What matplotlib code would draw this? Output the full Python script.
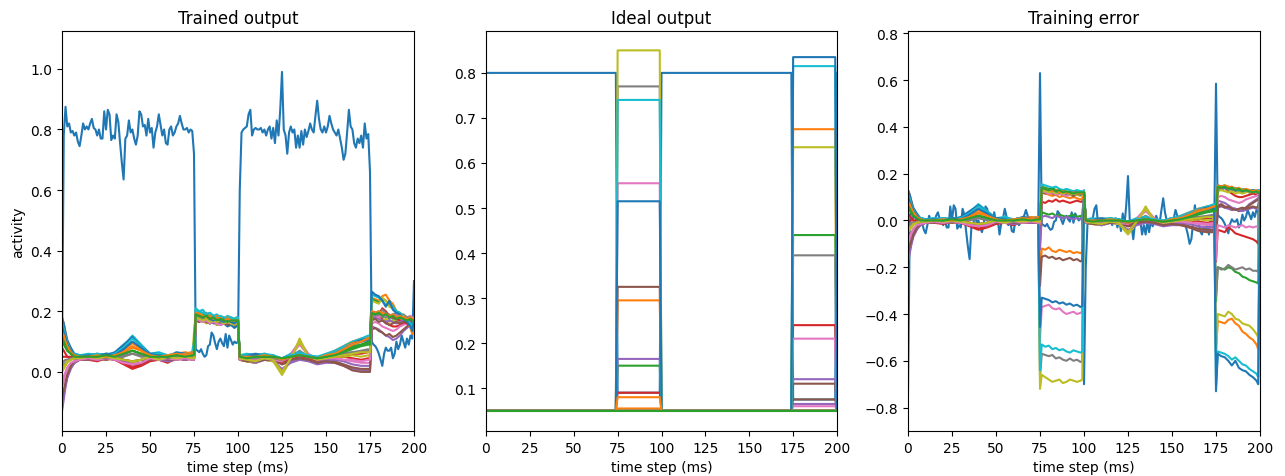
import numpy as np
import matplotlib
matplotlib.use("Agg")
import matplotlib.pyplot as plt

# ---------------- data ----------------
time_steps = np.arange(201)

grid_t = [0, 1, 2, 3, 5, 7, 10,
          15, 20, 25, 30, 35, 40, 45, 50, 55, 60, 65, 70, 74,
          75, 76, 78, 80, 82, 84, 86, 88, 90, 92, 94, 96, 98, 99, 100,
          101, 105, 110, 115, 120, 125, 130, 135, 140, 145, 150, 155, 160, 165, 170, 174,
          175, 176, 178, 180, 182, 184, 186, 188, 190, 192, 194, 196, 198, 199, 200]

# trained output of unit 0 (every time step)
unit0_out = [0.06,
    0.78, 0.875, 0.81, 0.82, 0.79, 0.795, 0.78, 0.79, 0.76, 0.745,
    0.78, 0.82, 0.8, 0.81, 0.8, 0.82, 0.835, 0.805, 0.8, 0.78,
    0.8, 0.77, 0.77, 0.86, 0.8, 0.865, 0.85, 0.765, 0.78, 0.77,
    0.85, 0.825, 0.755, 0.69, 0.635, 0.77, 0.78, 0.83, 0.79, 0.8,
    0.77, 0.75, 0.78, 0.86, 0.85, 0.81, 0.815, 0.78, 0.835, 0.79,
    0.805, 0.74, 0.79, 0.81, 0.85, 0.815, 0.78, 0.8, 0.755, 0.75,
    0.8, 0.81, 0.78, 0.79, 0.81, 0.82, 0.845, 0.82, 0.8, 0.8,
    0.805, 0.79, 0.8, 0.795, 0.72,
    0.075, 0.07, 0.065, 0.075, 0.06, 0.05, 0.055, 0.085, 0.09, 0.13,
    0.12, 0.095, 0.075, 0.1, 0.11, 0.095, 0.085, 0.125, 0.08, 0.12,
    0.105, 0.09, 0.1, 0.095, 0.1,
    0.6, 0.79, 0.8, 0.805, 0.81, 0.85, 0.865, 0.78, 0.8, 0.805,
    0.8, 0.8, 0.805, 0.79, 0.8, 0.78, 0.8, 0.81, 0.77, 0.805,
    0.755, 0.83, 0.78, 0.865, 0.99, 0.8, 0.78, 0.72, 0.79, 0.81,
    0.79, 0.8, 0.74, 0.78, 0.74, 0.795, 0.75, 0.8, 0.775, 0.795,
    0.82, 0.8, 0.79, 0.845, 0.895, 0.835, 0.8, 0.79, 0.81, 0.79,
    0.81, 0.845, 0.82, 0.8, 0.79, 0.78, 0.8, 0.77, 0.74, 0.7,
    0.72, 0.79, 0.865, 0.81, 0.8, 0.755, 0.74, 0.77, 0.755, 0.78,
    0.74, 0.82, 0.77, 0.785, 0.66,
    0.1, 0.09, 0.085, 0.075, 0.06, 0.04, 0.02, 0.06, 0.08, 0.07,
    0.07, 0.08, 0.045, 0.06, 0.1, 0.075, 0.09, 0.12, 0.1, 0.08,
    0.11, 0.09, 0.12, 0.11, 0.3]

# trained outputs of units 1..22 on grid_t
bundle_out = [
    # 1 orange
    [0.18, 0.16, 0.13, 0.10, 0.07, 0.055, 0.05,
     0.055, 0.05, 0.06, 0.055, 0.07, 0.095, 0.075, 0.055, 0.06, 0.05, 0.06, 0.065, 0.06,
     0.06, 0.175, 0.17, 0.18, 0.165, 0.16, 0.17, 0.165, 0.16, 0.165, 0.155, 0.16, 0.155, 0.16, 0.16,
     0.05, 0.055, 0.05, 0.06, 0.045, 0.04, 0.055, 0.06, 0.05, 0.045, 0.055, 0.07, 0.085, 0.1, 0.11, 0.115,
     0.11, 0.19, 0.195, 0.2, 0.19, 0.195, 0.185, 0.18, 0.185, 0.175, 0.18, 0.17, 0.175, 0.17, 0.17],
    # 2 green
    [0.12, 0.11, 0.09, 0.075, 0.06, 0.05, 0.045,
     0.05, 0.045, 0.055, 0.05, 0.06, 0.07, 0.06, 0.045, 0.05, 0.045, 0.055, 0.05, 0.055,
     0.05, 0.185, 0.18, 0.175, 0.18, 0.17, 0.175, 0.17, 0.165, 0.17, 0.175, 0.165, 0.17, 0.165, 0.165,
     0.045, 0.05, 0.04, 0.05, 0.055, 0.04, 0.05, 0.055, 0.045, 0.04, 0.05, 0.06, 0.075, 0.085, 0.09, 0.1,
     0.1, 0.19, 0.185, 0.195, 0.19, 0.18, 0.185, 0.175, 0.18, 0.175, 0.17, 0.175, 0.17, 0.17, 0.17],
    # 3 red
    [0.08, 0.07, 0.06, 0.05, 0.045, 0.045, 0.04,
     0.04, 0.035, 0.045, 0.04, 0.025, 0.01, 0.02, 0.035, 0.04, 0.03, 0.045, 0.04, 0.045,
     0.04, 0.17, 0.165, 0.175, 0.17, 0.18, 0.17, 0.175, 0.17, 0.165, 0.17, 0.175, 0.17, 0.17, 0.17,
     0.04, 0.035, 0.03, 0.045, 0.04, 0.025, 0.035, 0.05, 0.04, 0.03, 0.04, 0.045, 0.05, 0.045, 0.04, 0.045,
     0.04, 0.18, 0.185, 0.19, 0.175, 0.165, 0.155, 0.15, 0.15, 0.155, 0.16, 0.165, 0.16, 0.165, 0.165],
    # 4 purple
    [-0.13, -0.09, -0.05, -0.02, 0.01, 0.03, 0.04,
     0.045, 0.04, 0.05, 0.045, 0.03, 0.02, 0.025, 0.04, 0.045, 0.035, 0.04, 0.045, 0.04,
     0.04, 0.18, 0.185, 0.18, 0.175, 0.185, 0.18, 0.175, 0.18, 0.175, 0.17, 0.175, 0.17, 0.175, 0.175,
     0.04, 0.035, 0.03, 0.04, 0.035, 0.01, 0.03, 0.04, 0.035, 0.025, 0.03, 0.03, 0.02, 0.01, 0.005, 0.005,
     0.005, 0.15, 0.145, 0.14, 0.13, 0.12, 0.115, 0.105, 0.11, 0.12, 0.135, 0.145, 0.155, 0.16, 0.165],
    # 5 brown
    [-0.1, -0.07, -0.04, -0.015, 0.015, 0.03, 0.04,
     0.045, 0.045, 0.04, 0.05, 0.04, 0.035, 0.04, 0.045, 0.05, 0.04, 0.045, 0.04, 0.045,
     0.045, 0.17, 0.175, 0.165, 0.17, 0.16, 0.165, 0.155, 0.16, 0.165, 0.155, 0.16, 0.15, 0.155, 0.155,
     0.045, 0.04, 0.035, 0.045, 0.04, 0.03, 0.04, 0.045, 0.04, 0.035, 0.04, 0.035, 0.025, 0.015, 0.01, 0.01,
     0.01, 0.14, 0.145, 0.135, 0.13, 0.12, 0.125, 0.115, 0.12, 0.13, 0.14, 0.15, 0.16, 0.165, 0.165],
    # 6 pink
    [-0.05, -0.03, -0.01, 0.01, 0.025, 0.035, 0.04,
     0.04, 0.045, 0.04, 0.045, 0.03, 0.02, 0.03, 0.04, 0.045, 0.04, 0.05, 0.045, 0.05,
     0.05, 0.185, 0.19, 0.195, 0.18, 0.175, 0.18, 0.165, 0.155, 0.16, 0.165, 0.155, 0.16, 0.165, 0.165,
     0.045, 0.04, 0.045, 0.04, 0.035, 0.03, 0.06, 0.1, 0.06, 0.04, 0.045, 0.05, 0.04, 0.035, 0.03, 0.03,
     0.03, 0.16, 0.165, 0.16, 0.15, 0.145, 0.14, 0.135, 0.14, 0.15, 0.155, 0.16, 0.165, 0.17, 0.17],
    # 7 gray
    [0.02, 0.025, 0.03, 0.035, 0.04, 0.045, 0.045,
     0.05, 0.045, 0.05, 0.045, 0.05, 0.06, 0.05, 0.05, 0.045, 0.05, 0.045, 0.05, 0.05,
     0.1, 0.2, 0.195, 0.19, 0.195, 0.18, 0.185, 0.175, 0.17, 0.18, 0.17, 0.175, 0.165, 0.17, 0.17,
     0.05, 0.045, 0.04, 0.05, 0.045, 0.035, 0.05, 0.07, 0.05, 0.045, 0.05, 0.055, 0.06, 0.065, 0.07, 0.075,
     0.07, 0.185, 0.18, 0.19, 0.18, 0.185, 0.175, 0.18, 0.17, 0.175, 0.17, 0.175, 0.17, 0.17, 0.17],
    # 8 olive
    [0.0, 0.01, 0.02, 0.03, 0.04, 0.045, 0.05,
     0.045, 0.05, 0.04, 0.05, 0.035, 0.03, 0.04, 0.05, 0.045, 0.04, 0.05, 0.045, 0.05,
     0.13, 0.19, 0.18, 0.17, 0.16, 0.165, 0.17, 0.155, 0.16, 0.17, 0.165, 0.16, 0.165, 0.17, 0.17,
     0.04, 0.035, 0.03, 0.04, 0.035, -0.01, 0.04, 0.11, 0.05, 0.035, 0.045, 0.05, 0.05, 0.055, 0.05, 0.055,
     0.05, 0.175, 0.18, 0.175, 0.17, 0.175, 0.165, 0.17, 0.165, 0.17, 0.175, 0.17, 0.175, 0.175, 0.175],
    # 9 cyan
    [0.17, 0.15, 0.12, 0.1, 0.075, 0.06, 0.055,
     0.06, 0.055, 0.06, 0.06, 0.085, 0.12, 0.09, 0.06, 0.065, 0.055, 0.06, 0.06, 0.065,
     0.1, 0.21, 0.2, 0.205, 0.19, 0.195, 0.185, 0.19, 0.18, 0.175, 0.185, 0.18, 0.175, 0.18, 0.18,
     0.055, 0.06, 0.055, 0.06, 0.05, 0.045, 0.06, 0.065, 0.055, 0.05, 0.06, 0.07, 0.085, 0.1, 0.11, 0.12,
     0.12, 0.2, 0.195, 0.2, 0.19, 0.185, 0.19, 0.18, 0.185, 0.18, 0.175, 0.18, 0.175, 0.18, 0.18],
    # 10 blue
    [0.18, 0.16, 0.13, 0.105, 0.08, 0.06, 0.055,
     0.055, 0.06, 0.055, 0.065, 0.09, 0.115, 0.085, 0.06, 0.06, 0.05, 0.065, 0.06, 0.06,
     0.06, 0.185, 0.18, 0.175, 0.165, 0.17, 0.16, 0.165, 0.155, 0.16, 0.15, 0.155, 0.145, 0.15, 0.15,
     0.05, 0.055, 0.06, 0.055, 0.05, 0.045, 0.055, 0.06, 0.05, 0.045, 0.055, 0.065, 0.08, 0.095, 0.105, 0.11,
     0.11, 0.2, 0.195, 0.19, 0.195, 0.185, 0.18, 0.185, 0.175, 0.18, 0.175, 0.18, 0.175, 0.175, 0.175],
    # 11 orange
    [0.15, 0.14, 0.115, 0.095, 0.07, 0.055, 0.05,
     0.055, 0.05, 0.055, 0.05, 0.065, 0.08, 0.07, 0.05, 0.055, 0.05, 0.055, 0.06, 0.065,
     0.065, 0.2, 0.195, 0.19, 0.185, 0.19, 0.18, 0.185, 0.18, 0.175, 0.18, 0.175, 0.17, 0.175, 0.175,
     0.05, 0.05, 0.045, 0.055, 0.05, 0.04, 0.05, 0.055, 0.05, 0.045, 0.055, 0.065, 0.08, 0.095, 0.1, 0.11,
     0.11, 0.245, 0.24, 0.235, 0.25, 0.255, 0.235, 0.225, 0.2, 0.19, 0.175, 0.165, 0.145, 0.125, 0.16],
    # 12 green
    [0.1, 0.09, 0.08, 0.07, 0.06, 0.05, 0.05,
     0.05, 0.055, 0.05, 0.055, 0.06, 0.07, 0.06, 0.05, 0.05, 0.055, 0.05, 0.055, 0.055,
     0.055, 0.195, 0.19, 0.185, 0.19, 0.18, 0.175, 0.18, 0.17, 0.175, 0.17, 0.165, 0.17, 0.17, 0.17,
     0.05, 0.05, 0.045, 0.05, 0.05, 0.04, 0.05, 0.055, 0.05, 0.045, 0.05, 0.06, 0.07, 0.08, 0.09, 0.095,
     0.095, 0.24, 0.235, 0.23, 0.24, 0.235, 0.22, 0.215, 0.2, 0.195, 0.185, 0.18, 0.175, 0.17, 0.17],
    # 13 red
    [0.05, 0.05, 0.05, 0.05, 0.05, 0.05, 0.045,
     0.045, 0.04, 0.045, 0.04, 0.03, 0.015, 0.025, 0.04, 0.045, 0.04, 0.045, 0.04, 0.045,
     0.045, 0.18, 0.175, 0.18, 0.17, 0.175, 0.17, 0.175, 0.165, 0.17, 0.175, 0.17, 0.165, 0.17, 0.17,
     0.045, 0.04, 0.035, 0.045, 0.045, 0.03, 0.04, 0.05, 0.045, 0.035, 0.045, 0.05, 0.055, 0.06, 0.06, 0.065,
     0.065, 0.2, 0.195, 0.19, 0.21, 0.2, 0.185, 0.18, 0.175, 0.17, 0.165, 0.16, 0.15, 0.14, 0.165],
    # 14 purple
    [-0.12, -0.08, -0.045, -0.015, 0.015, 0.03, 0.04,
     0.045, 0.04, 0.045, 0.04, 0.035, 0.025, 0.03, 0.045, 0.04, 0.035, 0.045, 0.04, 0.045,
     0.045, 0.175, 0.17, 0.175, 0.17, 0.165, 0.17, 0.165, 0.17, 0.165, 0.16, 0.165, 0.165, 0.165, 0.165,
     0.04, 0.04, 0.03, 0.04, 0.04, 0.005, 0.035, 0.045, 0.04, 0.03, 0.04, 0.04, 0.035, 0.025, 0.02, 0.02,
     0.02, 0.175, 0.18, 0.175, 0.17, 0.165, 0.17, 0.165, 0.16, 0.165, 0.17, 0.175, 0.17, 0.175, 0.17],
    # 15 brown
    [-0.09, -0.06, -0.035, -0.01, 0.02, 0.035, 0.04,
     0.04, 0.045, 0.04, 0.045, 0.04, 0.035, 0.04, 0.04, 0.045, 0.04, 0.04, 0.045, 0.04,
     0.04, 0.17, 0.165, 0.17, 0.165, 0.16, 0.165, 0.16, 0.165, 0.16, 0.155, 0.16, 0.16, 0.16, 0.16,
     0.04, 0.035, 0.035, 0.04, 0.04, 0.025, 0.04, 0.045, 0.04, 0.03, 0.035, 0.03, 0.02, 0.005, 0.0, 0.0,
     0.0, 0.17, 0.175, 0.165, 0.17, 0.16, 0.155, 0.16, 0.165, 0.16, 0.165, 0.17, 0.165, 0.17, 0.17],
    # 16 pink
    [-0.03, -0.015, 0.0, 0.015, 0.03, 0.035, 0.04,
     0.045, 0.04, 0.045, 0.04, 0.03, 0.025, 0.03, 0.045, 0.04, 0.045, 0.04, 0.045, 0.04,
     0.04, 0.175, 0.17, 0.165, 0.17, 0.16, 0.165, 0.16, 0.155, 0.16, 0.165, 0.16, 0.16, 0.16, 0.16,
     0.04, 0.045, 0.04, 0.045, 0.04, 0.035, 0.055, 0.09, 0.055, 0.04, 0.045, 0.045, 0.04, 0.04, 0.035, 0.04,
     0.04, 0.19, 0.185, 0.18, 0.19, 0.185, 0.18, 0.185, 0.19, 0.18, 0.185, 0.18, 0.185, 0.18, 0.175],
    # 17 gray
    [0.03, 0.035, 0.04, 0.04, 0.045, 0.045, 0.05,
     0.05, 0.05, 0.045, 0.05, 0.055, 0.06, 0.055, 0.05, 0.05, 0.045, 0.05, 0.05, 0.05,
     0.05, 0.185, 0.18, 0.175, 0.18, 0.17, 0.175, 0.17, 0.165, 0.17, 0.165, 0.17, 0.165, 0.165, 0.165,
     0.05, 0.045, 0.045, 0.05, 0.045, 0.04, 0.05, 0.06, 0.05, 0.045, 0.05, 0.055, 0.06, 0.065, 0.065, 0.07,
     0.07, 0.195, 0.185, 0.19, 0.205, 0.195, 0.185, 0.19, 0.195, 0.185, 0.19, 0.18, 0.18, 0.175, 0.17],
    # 18 olive
    [0.01, 0.02, 0.025, 0.035, 0.04, 0.045, 0.045,
     0.05, 0.045, 0.05, 0.045, 0.04, 0.035, 0.04, 0.05, 0.04, 0.05, 0.045, 0.05, 0.045,
     0.045, 0.18, 0.175, 0.17, 0.175, 0.165, 0.17, 0.165, 0.17, 0.16, 0.165, 0.16, 0.155, 0.16, 0.16,
     0.045, 0.04, 0.035, 0.045, 0.04, 0.0, 0.045, 0.1, 0.05, 0.04, 0.045, 0.05, 0.055, 0.06, 0.065, 0.065,
     0.065, 0.235, 0.23, 0.225, 0.245, 0.235, 0.215, 0.21, 0.195, 0.19, 0.185, 0.17, 0.15, 0.135, 0.17],
    # 19 cyan
    [0.16, 0.14, 0.115, 0.095, 0.07, 0.06, 0.055,
     0.055, 0.06, 0.055, 0.06, 0.08, 0.11, 0.085, 0.055, 0.06, 0.055, 0.06, 0.055, 0.06,
     0.06, 0.205, 0.2, 0.195, 0.19, 0.195, 0.185, 0.18, 0.185, 0.18, 0.175, 0.18, 0.175, 0.175, 0.175,
     0.055, 0.055, 0.05, 0.06, 0.055, 0.045, 0.055, 0.06, 0.055, 0.05, 0.055, 0.065, 0.08, 0.09, 0.1, 0.11,
     0.11, 0.255, 0.25, 0.245, 0.235, 0.22, 0.23, 0.215, 0.2, 0.195, 0.18, 0.17, 0.16, 0.145, 0.175],
    # 20 blue
    [0.15, 0.13, 0.11, 0.09, 0.07, 0.055, 0.05,
     0.055, 0.05, 0.06, 0.055, 0.075, 0.1, 0.08, 0.055, 0.055, 0.05, 0.06, 0.055, 0.06,
     0.06, 0.19, 0.185, 0.18, 0.185, 0.175, 0.17, 0.175, 0.17, 0.165, 0.17, 0.165, 0.16, 0.165, 0.165,
     0.05, 0.05, 0.055, 0.05, 0.05, 0.04, 0.05, 0.055, 0.05, 0.045, 0.05, 0.06, 0.075, 0.09, 0.1, 0.105,
     0.105, 0.265, 0.255, 0.25, 0.235, 0.215, 0.235, 0.205, 0.195, 0.19, 0.175, 0.165, 0.15, 0.135, 0.17],
    # 21 orange
    [0.13, 0.12, 0.1, 0.085, 0.065, 0.055, 0.05,
     0.05, 0.055, 0.05, 0.055, 0.065, 0.085, 0.07, 0.055, 0.05, 0.055, 0.06, 0.055, 0.06,
     0.06, 0.195, 0.19, 0.185, 0.18, 0.185, 0.175, 0.18, 0.175, 0.17, 0.175, 0.17, 0.17, 0.17, 0.17,
     0.05, 0.05, 0.05, 0.055, 0.05, 0.04, 0.05, 0.055, 0.05, 0.045, 0.055, 0.06, 0.075, 0.09, 0.1, 0.11,
     0.11, 0.2, 0.195, 0.2, 0.195, 0.19, 0.185, 0.19, 0.18, 0.185, 0.18, 0.175, 0.18, 0.175, 0.175],
    # 22 green
    [0.11, 0.1, 0.085, 0.07, 0.06, 0.05, 0.05,
     0.05, 0.05, 0.055, 0.05, 0.06, 0.07, 0.06, 0.05, 0.05, 0.05, 0.055, 0.05, 0.055,
     0.055, 0.19, 0.185, 0.18, 0.185, 0.175, 0.18, 0.17, 0.175, 0.17, 0.165, 0.17, 0.17, 0.17, 0.17,
     0.05, 0.045, 0.05, 0.05, 0.05, 0.045, 0.05, 0.055, 0.05, 0.045, 0.05, 0.055, 0.065, 0.075, 0.085, 0.09,
     0.09, 0.195, 0.19, 0.195, 0.185, 0.19, 0.18, 0.185, 0.175, 0.18, 0.175, 0.17, 0.175, 0.17, 0.17],
]

# ideal (target) levels of units 0..22: outside the cue windows, in window 1, in window 2
base_level = [0.8] + [0.05] * 22
win1_level = [0.09, 0.295, 0.15, 0.09, 0.165, 0.325, 0.555, 0.77, 0.85, 0.74, 0.515, 0.08,
              0.05, 0.05, 0.05, 0.05, 0.05, 0.05, 0.05, 0.05, 0.05, 0.055, 0.05]
win2_level = [0.075, 0.05, 0.05, 0.05, 0.065, 0.075, 0.06, 0.05, 0.05, 0.05, 0.05, 0.675,
              0.44, 0.24, 0.12, 0.11, 0.21, 0.395, 0.635, 0.815, 0.835, 0.05, 0.05]
window1 = (75, 100)
window2 = (175, 200)

xticks = [0, 25, 50, 75, 100, 125, 150, 175, 200]


def ideal_series(unit, t):
    t = np.asarray(t)
    y = np.full(t.shape, base_level[unit], dtype=float)
    y[(t >= window1[0]) & (t < window1[1])] = win1_level[unit]
    y[(t >= window2[0]) & (t < window2[1])] = win2_level[unit]
    return y


n_units = len(base_level)
trained = [(time_steps, np.array(unit0_out))] + \
          [(np.array(grid_t), np.array(row)) for row in bundle_out]

# ---------------- figure ----------------
fig = plt.figure(figsize=(12.85, 4.77), dpi=100)
W, H = 1285.0, 477.0
ax1 = fig.add_axes([62 / W, 45 / H, 352 / W, 400 / H])
ax2 = fig.add_axes([486 / W, 45 / H, 351 / W, 400 / H])
ax3 = fig.add_axes([908 / W, 45 / H, 352 / W, 400 / H])

for u in range(n_units):
    t, y = trained[u]
    ax1.plot(t, y)
    ax2.plot(time_steps, ideal_series(u, time_steps))
    ax3.plot(t, y - ideal_series(u, t))

ax1.set_title("Trained output")
ax2.set_title("Ideal output")
ax3.set_title("Training error")
ax1.set_ylabel("activity")
for ax in (ax1, ax2, ax3):
    ax.set_xlim(0, 200)
    ax.set_xticks(xticks)
    ax.set_xlabel("time step (ms)")

ax1.set_ylim(-0.195, 1.125)
ax1.set_yticks([0.0, 0.2, 0.4, 0.6, 0.8, 1.0])
ax2.set_ylim(0.005, 0.893)
ax2.set_yticks([0.1, 0.2, 0.3, 0.4, 0.5, 0.6, 0.7, 0.8])
ax3.set_ylim(-0.9, 0.81)
ax3.set_yticks([-0.8, -0.6, -0.4, -0.2, 0.0, 0.2, 0.4, 0.6, 0.8])

fig.savefig("out.png", dpi=100)
